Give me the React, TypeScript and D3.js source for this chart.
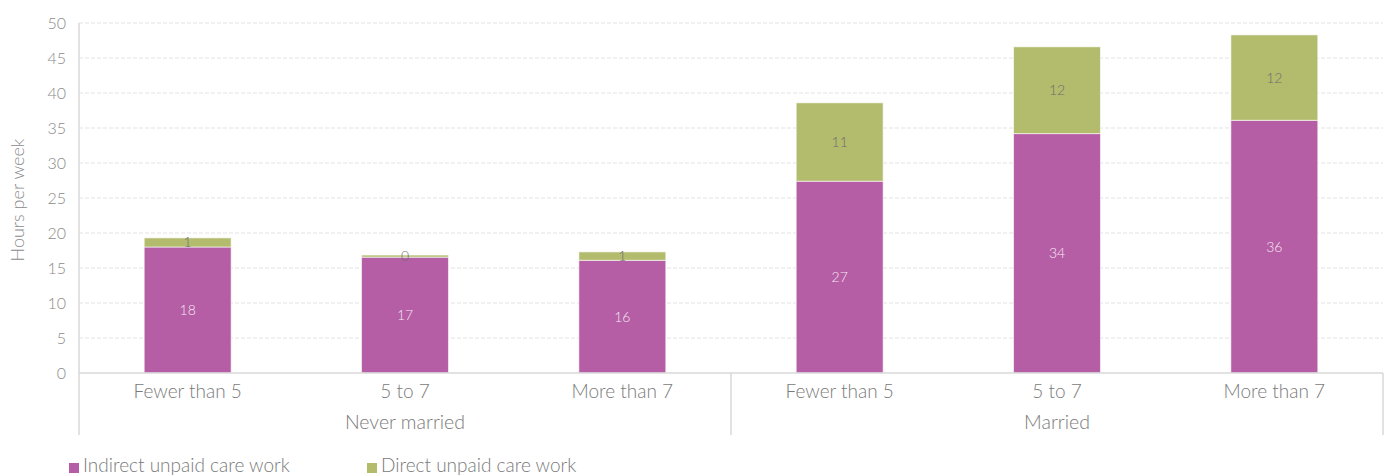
import React from "react";
import * as d3 from "d3";

const groups = ["Never married", "Married"];
const categories = ["Fewer than 5", "5 to 7", "More than 7"];
const indirect = [18.0, 16.55, 16.1, 27.4, 34.2, 36.1];
const direct = [1.3, 0.3, 1.2, 11.2, 12.4, 12.2];
const yTicks = [0, 5, 10, 15, 20, 25, 30, 35, 40, 45, 50];
const seriesNames = ["Indirect unpaid care work", "Direct unpaid care work"];
const colors = ["#B55DA5", "#B3BB6D"];

const W = 1385, H = 476;
const left = 79, right = 1383, top = 23, bottom = 373;
const FONT = "Lato, 'Open Sans', sans-serif";

export default function App() {
  const keys = groups.flatMap((g) => categories.map((c) => g + "|" + c));
  const x = d3.scaleBand().domain(keys).range([left, right]).paddingInner(0.6).paddingOuter(0.3);
  const xStep = d3.scaleBand().domain(keys).range([left, right]);
  const y = d3.scaleLinear().domain([0, 50]).range([bottom, top]);
  const rows = keys.map((k, i) => ({ key: k, indirect: indirect[i], direct: direct[i] }));
  const stack = d3.stack<any>().keys(["indirect", "direct"])(rows);

  return (
    <svg width={W} height={H} style={{ display: "block", position: "absolute", left: 0, top: 0 }}>
      {yTicks.map((t) => (
        <g key={t}>
          {t > 0 && (
            <line x1={left} x2={right} y1={y(t)} y2={y(t)} stroke="#e3e3e3" strokeDasharray="4,2" strokeWidth={1} />
          )}
          <text x={66} y={y(t)} dy="0.35em" textAnchor="end" fontFamily={FONT} fontWeight={300} fontSize={16} fill="#8a8a8a">
            {t}
          </text>
        </g>
      ))}
      <text transform={`translate(24,200) rotate(-90)`} textAnchor="middle" fontFamily={FONT} fontWeight={300} fontSize={18} fill="#8a8a8a">
        Hours per week
      </text>
      {stack.map((s, si) =>
        s.map((d, i) => (
          <rect key={si + "-" + i} x={x(keys[i])} width={x.bandwidth()} y={y(d[1])} height={y(d[0]) - y(d[1])}
            fill={colors[si]} stroke="#ffffff" strokeOpacity={0.6} strokeWidth={1} />
        ))
      )}
      {stack.map((s, si) =>
        s.map((d, i) => (
          <text key={"l" + si + "-" + i} x={(x(keys[i]) as number) + x.bandwidth() / 2} y={(y(d[0]) + y(d[1])) / 2} dy="0.35em"
            textAnchor="middle" fontFamily={FONT} fontWeight={300} fontSize={14}
            fill={si === 0 ? "#f5e8f2" : "#6e6e6e"}>
            {Math.round(d[1] - d[0])}
          </text>
        ))
      )}
      <line x1={left} x2={right} y1={bottom} y2={bottom} stroke="#d9d9d9" strokeWidth={1.5} />
      <line x1={left} x2={left} y1={top} y2={435} stroke="#d9d9d9" strokeWidth={1.5} />
      {groups.map((g, gi) => {
        const x0 = xStep(keys[gi * 3]) as number;
        const x1 = (xStep(keys[gi * 3 + 2]) as number) + xStep.bandwidth();
        return (
          <g key={g}>
            <line x1={x1} x2={x1} y1={bottom} y2={435} stroke="#d9d9d9" strokeWidth={1.5} />
            <text x={(x0 + x1) / 2} y={429} textAnchor="middle" fontFamily={FONT} fontWeight={300} fontSize={19.5} fill="#7a7a7a">
              {g}
            </text>
          </g>
        );
      })}
      {keys.map((k, i) => (
        <text key={k} x={(x(k) as number) + x.bandwidth() / 2} y={398} textAnchor="middle" fontFamily={FONT} fontWeight={300} fontSize={19} fill="#7a7a7a">
          {categories[i % 3]}
        </text>
      ))}
      {seriesNames.map((n, i) => (
        <g key={n} transform={`translate(${[69, 367][i]},0)`}>
          <rect x={0} y={463} width={10} height={10} fill={colors[i]} />
          <text x={14} y={472} fontFamily={FONT} fontWeight={300} fontSize={19} fill="#7a7a7a">
            {n}
          </text>
        </g>
      ))}
    </svg>
  );
}
